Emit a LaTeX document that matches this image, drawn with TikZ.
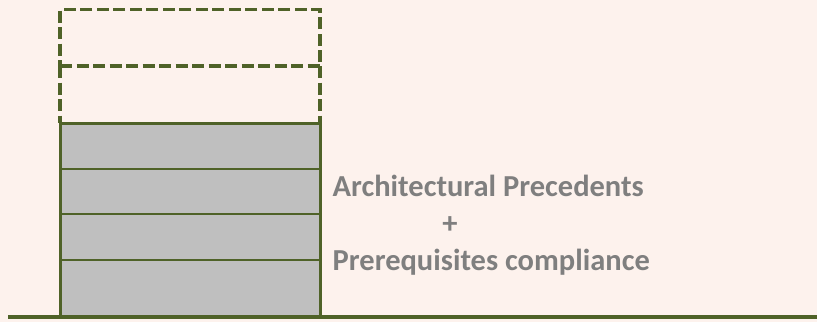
\documentclass[tikz,border=0pt]{standalone}
\usepackage{fontspec}
\setmainfont{Carlito}
\definecolor{bgc}{HTML}{FDF2ED}
\definecolor{olive}{HTML}{4F6228}
\definecolor{boxgray}{HTML}{BFBFBF}
\definecolor{txtgray}{HTML}{7F7F7F}
\begin{document}
\begin{tikzpicture}[x=1pt,y=-1pt,
  dline/.style={draw=olive,line width=3.5pt,dash pattern=on 12pt off 4.5pt},
  dbox/.style={dline,minimum width=260pt,inner sep=0pt,outer sep=0pt},
  gbox/.style={minimum width=260pt,inner sep=0pt,outer sep=0pt},
  sbox/.style={draw=olive,fill=boxgray,line width=2pt,minimum width=260pt,inner sep=0pt,outer sep=0pt},
  lbl/.style={text=txtgray,font=\bfseries\fontsize{30.5}{36}\selectfont,inner sep=0pt}]
\fill[bgc] (0,0) rectangle (817,322);
\useasboundingbox (0,0) rectangle (817,322);
% dashed boxes
\node[dbox,minimum height=56.5pt] (d1) at (190,37.75) {};
\node[gbox,minimum height=57pt] (d2) at (190,94.5) {};
\draw[dline] (d2.north west) -- (d2.south west);
\draw[dline] (d2.north east) -- (d2.south east);
% solid boxes
\node[sbox,minimum height=46pt] (s1) at (190,146) {};
\node[sbox,minimum height=45pt] (s2) at (190,191.5) {};
\node[sbox,minimum height=46pt] (s3) at (190,237) {};
\node[sbox,minimum height=57pt] (s4) at (190,288.5) {};
\draw[olive,line width=3pt] (s1.north west) rectangle (s4.south east);
% ground
\coordinate (g0) at (8,317);
\coordinate (g1) at (817,317);
\draw[olive,line width=4pt] (g0) -- (g1);
% text
\node[lbl,anchor=base west] (t1) at (332.5,196) {Architectural Precedents};
\node[lbl,anchor=base] (t2) at (450,233) {+};
\node[lbl,anchor=base west] (t3) at (332.5,270) {Prerequisites compliance};
\end{tikzpicture}
\end{document}
